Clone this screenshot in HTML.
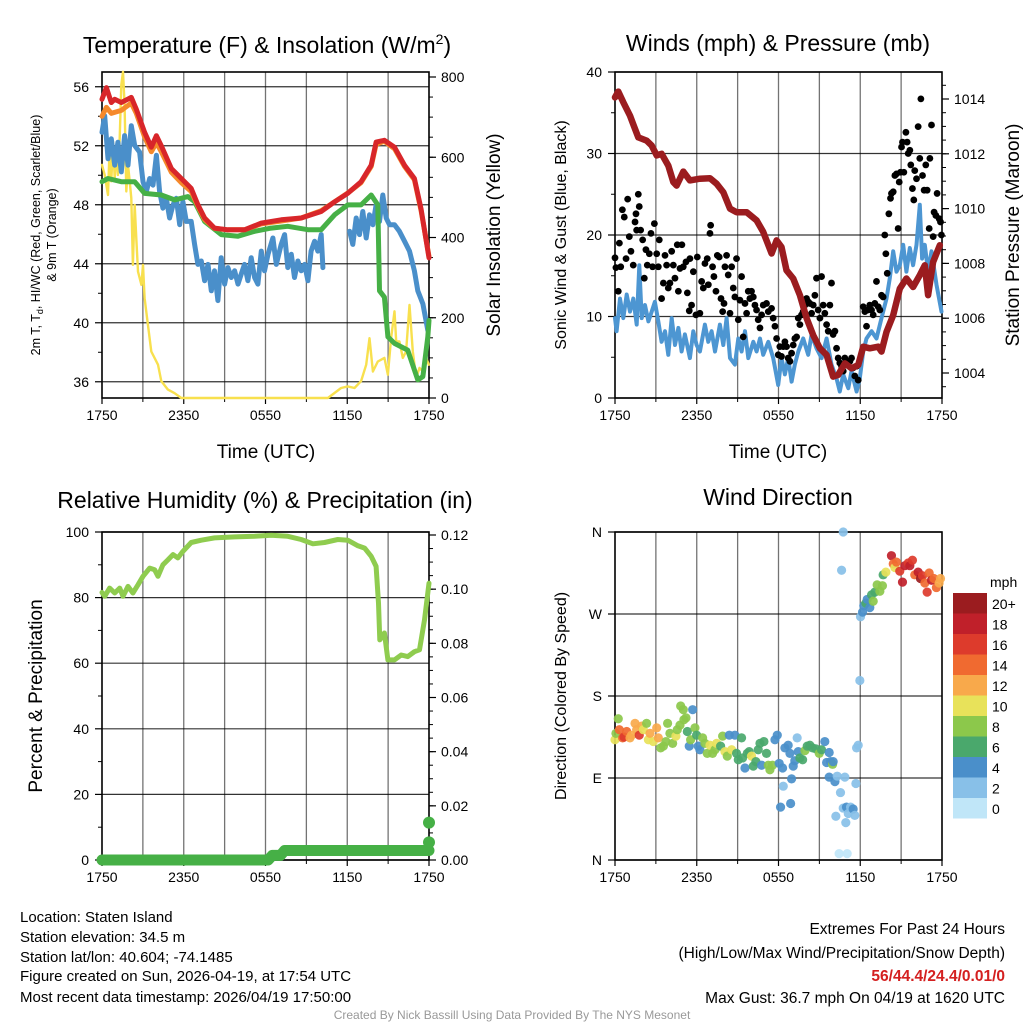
<!DOCTYPE html>
<html><head><meta charset="utf-8">
<style>
html,body{margin:0;padding:0;background:#fff;}
svg{display:block;font-family:"Liberation Sans",Arial,sans-serif;}
</style></head>
<body>
<svg id="chart" width="1024" height="1024" viewBox="0 0 1024 1024" xmlns="http://www.w3.org/2000/svg">
<rect width="1024" height="1024" fill="#fff"/>
<g id="layer"></g>
<text x="267" y="53" font-size="23" text-anchor="middle">Temperature (F) &amp; Insolation (W/m<tspan font-size="14" dy="-9">2</tspan><tspan dy="9">)</tspan></text>
<text x="778" y="51" font-size="23" text-anchor="middle">Winds (mph) &amp; Pressure (mb)</text>
<text x="265" y="508" font-size="23" text-anchor="middle">Relative Humidity (%) &amp; Precipitation (in)</text>
<text x="778" y="505" font-size="23" text-anchor="middle">Wind Direction</text>
<text x="266" y="458" font-size="19" text-anchor="middle">Time (UTC)</text>
<text x="778" y="458" font-size="19" text-anchor="middle">Time (UTC)</text>
<text font-size="12.5" text-anchor="middle" transform="translate(40,235) rotate(-90)">2m T, T<tspan font-size="9" dy="3">d</tspan><tspan dy="-3">, HI/WC (Red, Green, Scarlet/Blue)</tspan></text>
<text font-size="12.5" text-anchor="middle" transform="translate(56,235) rotate(-90)">&amp; 9m T (Orange)</text>
<text font-size="19" text-anchor="middle" transform="translate(500,235) rotate(-90)">Solar Insolation (Yellow)</text>
<text font-size="16" text-anchor="middle" transform="translate(566,235) rotate(-90)">Sonic Wind &amp; Gust (Blue, Black)</text>
<text font-size="19" text-anchor="middle" transform="translate(1019,235) rotate(-90)">Station Pressure (Maroon)</text>
<text font-size="19" text-anchor="middle" transform="translate(42,696) rotate(-90)">Percent &amp; Precipitation</text>
<text font-size="16" text-anchor="middle" transform="translate(566,696) rotate(-90)">Direction (Colored By Speed)</text>
<g font-size="15">
<text x="20" y="922">Location: Staten Island</text>
<text x="20" y="942">Station elevation: 34.5 m</text>
<text x="20" y="962">Station lat/lon: 40.604; -74.1485</text>
<text x="20" y="981">Figure created on Sun, 2026-04-19, at 17:54 UTC</text>
<text x="20" y="1002">Most recent data timestamp: 2026/04/19 17:50:00</text>
</g>
<g font-size="15.5" text-anchor="end">
<text x="1005" y="934">Extremes For Past 24 Hours</text>
<text x="1005" y="958">(High/Low/Max Wind/Precipitation/Snow Depth)</text>
<text x="1005" y="981" fill="#d42020" font-weight="bold">56/44.4/24.4/0.01/0</text>
<text x="1005" y="1003">Max Gust: 36.7 mph On 04/19 at 1620 UTC</text>
</g>
<text x="512" y="1019" font-size="12" fill="#999" text-anchor="middle">Created By Nick Bassill Using Data Provided By The NYS Mesonet</text>
</svg>
<script>
// ---------- Panel 1 data ----------
var redT = [0,0.32,0.68,0.93,1.42,2.15,2.52,3.13,3.62,3.99,4.35,5.09,5.82,6.55,7.04,7.53,8.26,9.24,10.46,11.69,13.15,14.62,16.09,17.07,18.04,19.02,19.76,20.12,20.73,21.47,22.2,22.93,23.42,24];
var redV = [55.15,55.94,54.93,55.15,54.93,55.28,54.48,52.91,51.9,52.68,52.0,50.45,49.78,49.11,48.0,47.1,46.42,46.3,46.3,46.76,46.98,47.1,47.54,48.2,48.78,49.56,50.68,52.25,52.37,51.9,50.68,49.78,47.7,44.4];
var orangeT = [0,0.32,0.68,1.42,2.15,2.52,3.13,3.62,3.99,4.35,5.09,5.82,6.55,7.04,7.53,8.26,9.24,10.46,11.69,13.15,14.62,16.09,17.07,18.04,19.02,19.76,20.12,20.73,21.47,22.2,22.93,23.42,24];
var orangeV = [54.0,54.6,54.2,54.4,54.9,54.2,52.6,51.6,52.2,51.6,50.2,49.5,48.9,47.9,47.0,46.4,46.3,46.3,46.7,46.9,47.1,47.6,48.2,48.8,49.5,50.6,52.1,52.3,51.8,50.6,49.7,47.6,44.5];
var greenT = [0,0.44,1.42,2.4,3.13,4.35,5.33,6.31,6.8,7.53,8.75,9.98,11.2,12.42,13.64,15.11,16.09,17.07,18.04,19.02,19.76,20.24,20.37,20.73,20.98,21.47,22.44,23.18,23.55,23.91,24];
var greenV = [49.56,49.78,49.56,49.56,48.77,48.66,48.33,48.55,48.21,46.87,45.98,45.87,46.2,46.42,46.54,46.31,46.31,47.32,47.99,47.99,48.66,47.99,42.17,41.73,39.04,38.6,38.15,36.13,36.36,39.04,40.16];
var blueT = [0,0.2,0.44,0.68,0.93,1.17,1.42,1.66,1.91,2.15,2.4,2.76,3.01,3.25,3.5,3.74,3.99,4.23,4.47,4.72,4.96,5.21,5.45,5.7,5.94,6.19,6.55,6.8,7.04,7.29,7.53,7.78,8.02,8.26,8.51,8.75,9.0,9.24,9.49,9.73,9.98,10.22,10.46,10.71,10.95,11.2,11.44,11.69,11.93,12.18,12.54,12.79,13.15,13.4,13.64,13.89,14.13,14.38,14.62,14.87,15.11,15.35,15.6,15.84,16.09,16.21,null,18.17,18.41,18.66,18.9,19.14,19.39,19.63,19.88,20.12,20.37,20.61,20.86,21.1,21.47,21.83,22.2,22.57,22.93,23.18,23.55,23.91];
var blueV = [52.91,54.03,51.12,52.47,50.68,52.24,50.23,52.69,50.68,53.36,52.02,51.57,49.56,48.89,49.78,49.33,51.35,48.89,47.77,48.44,47.1,47.99,48.44,46.65,48.21,46.87,46.87,45.31,43.96,44.19,42.85,43.96,42.17,43.52,41.5,44.41,42.62,43.74,43.07,43.52,42.62,43.29,43.96,42.85,44.41,43.07,42.62,44.86,43.52,44.64,45.75,43.96,45.31,45.98,43.74,44.64,43.07,44.19,43.52,43.96,42.85,44.86,45.53,44.86,45.98,43.74,null,46.2,45.31,47.1,45.98,47.54,45.75,47.32,46.65,47.99,46.87,48.66,47.1,46.65,46.65,46.2,45.53,44.86,43.52,42.17,41.28,39.49];
var sunT = [0,0.2,0.44,0.56,0.68,0.81,0.93,1.05,1.17,1.3,1.42,1.54,1.66,1.78,1.91,2.03,2.15,2.27,2.4,2.52,2.64,2.89,3.01,3.13,3.37,3.62,4.11,4.35,4.84,5.33,5.82,16.58,17.55,18.04,18.53,19.02,19.39,19.63,19.88,20.24,20.73,20.98,21.22,21.47,21.59,21.83,22.08,22.32,22.57,22.81,23.06,23.3,23.55,23.79,23.99];
var sunV = [581,556,506,622,540,639,548,614,556,647,780,813,730,515,581,540,498,332,481,398,315,282,332,249,183,116,83,42,21,12,0,0,25,29,25,42,83,149,66,91,100,58,149,216,141,141,100,116,232,116,50,75,66,100,83];

// ---------- Panel 2 data ----------
var presT = [0,0.24,0.61,1.1,1.47,1.71,2.32,2.69,3.06,3.42,3.91,4.28,4.52,5.01,5.5,6.23,6.97,7.46,7.95,8.44,8.92,9.66,10.39,10.88,11.49,11.86,12.22,12.59,13.08,13.57,14.06,14.55,15.04,15.53,16.01,16.38,16.87,17.36,17.85,18.22,18.7,19.32,19.56,19.93,20.42,20.9,21.39,21.88,22.37,22.74,22.98,23.35,23.84];
var presV = [1014.06,1014.27,1013.88,1013.39,1012.91,1012.6,1012.48,1012.3,1011.94,1012.0,1011.57,1010.97,1010.84,1011.35,1011.03,1011.09,1011.11,1010.91,1010.6,1010.0,1009.87,1009.87,1009.57,1009.15,1008.36,1008.84,1008.6,1007.75,1007.45,1006.84,1006.0,1005.38,1004.9,1004.66,1003.87,1003.93,1004.35,1004.17,1004.29,1004.96,1004.9,1004.96,1004.78,1005.5,1006.11,1007.08,1007.45,1007.14,1007.57,1007.93,1006.84,1008.05,1008.66];
var windT = [0,0.12,0.37,0.61,0.86,1.1,1.34,1.59,1.78,1.96,2.2,2.45,2.69,2.93,3.18,3.42,3.67,3.91,4.16,4.4,4.65,4.89,5.13,5.5,5.75,5.99,6.23,6.6,6.85,7.09,7.34,7.7,7.95,8.19,8.44,8.8,9.05,9.29,9.54,9.78,10.15,10.39,10.64,10.88,11.25,11.61,11.98,12.22,12.47,12.71,12.96,13.2,13.45,13.81,14.18,14.43,14.79,15.16,15.53,15.89,16.26,16.5,16.75,17.12,17.36,17.73,17.97,18.22,18.46,18.83,19.19,19.56,19.93,20.17,20.42,20.66,20.9,21.15,21.39,21.64,21.88,22.13,22.37,22.54,22.74,22.98,23.23,23.6,23.96];
var windV = [9.8,8.2,12.2,9.8,12.7,10.6,12.2,9.0,16.3,9.8,11.4,9.4,10.6,11.8,9.4,6.9,8.2,5.3,9.8,6.5,8.6,5.7,7.8,4.9,8.2,6.5,5.7,9.0,6.9,8.2,5.7,9.0,6.5,9.8,4.9,4.1,7.3,5.7,8.2,4.9,6.9,5.7,7.3,5.3,6.9,4.9,1.6,4.9,2.9,4.9,2.0,4.1,5.7,7.3,5.3,7.8,6.1,4.9,7.3,4.1,2.4,0.8,2.9,1.2,3.3,0.8,2.4,5.7,7.3,8.2,7.3,9.8,12.2,14.7,18.0,15.5,16.3,18.8,15.5,18.4,16.3,18.8,23.7,17.1,18.8,15.5,18.0,13.9,10.6];
var gustT = [0,0.07,0.24,0.32,0.42,0.54,0.68,0.81,0.93,1.05,1.17,1.34,1.47,1.54,1.59,1.71,1.78,1.88,2.03,2.15,2.27,2.37,2.52,2.64,2.76,2.89,3.06,3.18,3.25,3.42,3.55,3.67,3.79,3.91,4.03,4.16,4.28,4.4,4.57,4.65,4.77,4.91,5.01,5.21,5.31,5.45,5.5,5.62,5.75,5.94,6.04,6.23,6.36,6.48,6.6,6.77,6.85,6.97,7.02,7.16,7.26,7.41,7.51,7.65,7.78,7.9,8.0,8.07,8.19,8.31,8.44,8.56,8.68,8.8,8.92,9.05,9.17,9.29,9.41,9.54,9.66,9.78,9.9,10.02,10.15,10.27,10.39,10.51,10.64,10.76,10.88,11.12,11.25,11.49,11.61,11.74,11.86,11.98,12.1,12.22,12.35,12.47,12.59,12.71,12.84,12.96,13.08,13.2,13.33,13.45,13.57,13.69,13.81,13.94,14.06,14.18,14.3,14.43,14.55,14.67,14.79,14.91,15.04,15.16,15.28,15.4,15.53,15.65,15.77,15.89,16.01,16.14,16.26,16.38,16.5,16.63,16.75,16.87,16.99,17.12,17.24,17.36,17.48,17.6,17.73,17.85,18.22,18.34,18.46,18.58,18.7,18.83,18.95,19.07,19.19,19.32,19.44,19.56,19.68,19.8,19.88,19.98,20.1,20.22,20.29,20.42,20.54,20.66,20.78,20.86,20.95,21.03,21.1,21.2,21.35,21.44,21.52,21.64,21.71,21.83,21.93,22.0,22.13,22.25,22.37,22.45,22.57,22.69,22.81,22.91,23.06,23.11,23.23,23.35,23.42,23.55,23.64,23.79,23.89,23.96];
var gustV = [17.2,16.0,13.1,19.0,16.1,23.1,22.2,17.1,24.4,19.8,18.0,16.3,21.6,22.6,20.6,25.0,23.5,20.6,19.4,14.7,18.2,16.3,17.7,20.2,16.1,21.4,17.7,16.1,19.4,12.2,14.1,17.5,16.3,13.5,14.1,18.0,16.3,14.7,18.8,13.1,15.9,18.8,16.1,16.7,12.9,10.7,17.1,11.4,15.5,10.2,17.3,10.4,14.3,13.5,16.5,17.1,13.9,20.2,21.2,16.1,14.9,13.1,17.5,17.3,12.2,10.6,11.6,16.1,17.5,15.1,10.4,16.1,13.5,12.4,17.1,9.6,12.0,14.9,7.5,11.6,10.4,13.1,12.2,13.1,12.4,11.4,10.8,9.6,8.6,10.2,11.4,11.6,10.6,11.0,9.8,8.8,7.3,5.3,6.3,5.1,6.3,6.9,6.3,4.9,4.5,5.5,6.5,7.3,7.5,9.8,9.0,10.2,10.6,11.4,12.2,11.8,11.6,10.4,11.4,12.6,14.7,10.8,9.8,14.9,11.4,10.4,9.0,8.2,11.4,14.1,7.8,8.2,6.1,4.9,4.3,3.9,3.3,4.9,4.1,4.5,4.5,4.9,3.7,2.7,3.9,2.2,11.2,10.6,8.8,10.8,11.4,10.8,10.2,11.6,14.3,11.2,10.8,12.6,12.4,20.0,17.7,15.3,22.6,24.5,25.1,25.3,27.3,27.5,20.8,26.5,27.7,30.8,31.4,27.7,32.6,31.4,30.0,30.4,28.6,25.7,24.3,27.9,26.9,33.3,29.4,36.7,27.3,25.5,28.6,25.5,20.8,29.4,33.5,19.8,22.8,22.4,25.1,22.0,21.6,20.0];

// ---------- Panel 3 data ----------
var rhT = [0,0.2,0.56,0.93,1.3,1.54,1.91,2.27,2.64,3.01,3.5,3.86,4.11,4.47,4.84,5.21,5.57,5.94,6.55,7.29,8.26,9.73,11.2,12.42,13.64,14.62,15.48,16.33,17.31,18.04,18.78,19.27,19.76,20.12,20.29,20.39,20.73,20.98,21.47,21.96,22.44,22.93,23.3,23.67,23.91,24];
var rhV = [81.6,80.4,82.9,81.4,82.9,80.4,83.4,81.4,83.9,86.5,89.0,88.5,86.5,90.0,91.5,93.1,92.1,94.1,96.8,97.5,98.2,98.5,98.7,99.0,98.7,97.7,96.4,96.8,97.7,97.5,95.8,95.1,92.6,89.5,78.3,67.1,69.2,61.0,61.0,62.5,62.0,63.5,64.1,73.2,81.4,84.4];
var precipT = [0,12.2,12.5,13.1,13.4,24];
var precipV = [0,0,0.0017,0.0017,0.0035,0.0035];
var precipDotV = [0.0065,0.0138];

// ---------- Panel 4 data (160 obs) ----------
var dirT = [
0,0.07,0.24,0.32,0.56,0.66,0.86,1.1,1.22,1.47,
1.59,1.78,1.96,2.08,2.32,2.45,2.57,2.81,3.06,3.18,
3.35,3.55,3.74,3.86,4.03,4.23,4.47,4.57,4.77,4.82,
5.01,5.06,5.21,5.31,5.45,5.55,5.7,5.87,5.99,6.11,
6.23,6.43,6.6,6.77,6.97,7.16,7.34,7.46,7.75,7.9,
8.07,8.24,8.39,8.56,8.8,8.92,9.05,9.29,9.36,9.54,
9.71,9.85,10.02,10.15,10.34,10.51,10.64,10.76,10.93,11.12,
11.25,11.37,11.56,11.74,11.91,12.05,12.15,12.3,12.35,12.47,
12.71,12.84,12.89,12.96,13.08,13.2,13.37,13.45,13.57,13.77,
13.94,14.11,14.3,14.5,14.74,14.99,15.16,15.4,15.53,15.72,
15.82,15.97,16.01,15.72,16.14,16.21,16.31,16.55,16.75,16.87,
16.94,16.99,17.12,17.29,17.48,17.6,17.68,17.73,17.85,16.45,
17.04,16.75,16.63,17.97,18.02,18.17,18.26,18.41,18.51,18.7,
18.83,18.95,19.07,19.24,19.44,19.63,19.68,19.88,20.29,20.42,
20.54,20.66,20.9,21.1,21.27,21.52,21.64,21.83,22.0,22.25,
22.42,22.57,22.74,22.91,23.06,23.23,23.4,23.59,23.79,23.89];
var dirDeg = [
132,139,155,143,134,135,141,134,137,150,
143,137,147,143,150,132,139,130,145,134,
123,125,130,150,139,128,136,143,148,169,
165,154,156,141,125,132,165,145,137,125,
121,134,128,117,126,117,121,128,125,136,
119,114,137,121,137,117,110,134,112,101,
117,119,114,103,108,121,128,104,130,117,
104,99,104,132,137,106,58,101,81,123,
126,117,62,89,103,109,134,119,112,110,
120,125,126,123,122,117,121,130,107,118,
108,105,108,91,86,48,92,74,57,91,
41,58,51,58,56,49,84,123,126,7,
7,360,318,197,267,272,279,282,286,277,
291,284,294,302,295,301,313,316,334,325,
321,327,317,305,323,326,323,329,313,316,
309,312,304,294,315,307,309,299,304,309];
var dirSpd = [
10,7,7,13,14,16,13,12,12,11,
12,16,11,10,8,10,11,10,12,11,
8,8,8,8,7,7,10,7,8,8,
8,8,7,6,4,8,4,8,6,4,
4,8,8,7,10,7,8,10,6,7,
10,7,4,10,4,6,6,6,6,4,
6,6,9,6,6,6,6,4,6,6,
8,7,7,4,4,3,3,4,2,4,
4,3,3,3,3,4,2,3,6,6,
8,6,6,6,6,7,6,4,3,4,
3,8,4,4,4,2,2,2,2,1,
2,3,2,2,3,1,2,2,1,0,
0,2,1,1,2,4,4,6,4,4,
6,7,6,7,7,7,6,10,17,13,
10,14,16,18,17,16,17,16,14,17,
20,16,14,16,13,18,14,14,11,12];

// ---------- Colorbar ----------
var cbLabels = ["20+","18","16","14","12","10","8","6","4","2","0"];
var cbColors = ["#9b1c1f","#c0202a","#dd3b2c","#f06a30","#f8a94b","#e8e25a","#8cc84b","#4aa86c","#4a8fca","#88c0e8","#c0e6f8"];

var NS="http://www.w3.org/2000/svg";
var layer=document.getElementById('layer');
function el(tag,attrs,parent){var e=document.createElementNS(NS,tag);for(var k in attrs)e.setAttribute(k,attrs[k]);(parent||layer).appendChild(e);return e;}
function txt(s,x,y,size,anchor,parent){var t=el('text',{x:x,y:y,'font-size':size,'text-anchor':anchor||'middle'},parent);t.textContent=s;return t;}

function panel(x0,x1,y0,y1,ymin,ymax){return {x0:x0,x1:x1,y0:y0,y1:y1,ymin:ymin,ymax:ymax,
  X:function(t){return x0+(t/24)*(x1-x0);},
  Y:function(v){return y1-(v-ymin)/(ymax-ymin)*(y1-y0);}};}

var P1=panel(102,429,72,398,34.9,57.0);
var P1r=function(w){return 398-(w/800)*(398-77);};
var P2=panel(615,942,72,398,0,40);
var P2r=function(p){return 373-(p-1004)/10*(373-99);};
var P3=panel(102,429,532,860,0,100);
var P3r=function(v){return 860-(v/0.12)*(860-535);};
var P4=panel(615,942,532,860,0,360);

var xLabels=["1750","2350","0550","1150","1750"];
var xLabelHours=[0,6,12,18,24];

function frame(P,name,yTicks,yLabels,rTickY,rLabels,rMinorY,lMinorY){
  var g=el('g',{});
  
  
  for(var h=3;h<24;h+=3){var x=P.X(h);var l=el('line',{x1:x,x2:x,y1:P.y0,y2:P.y1,stroke:'#000','stroke-opacity':0.55,'stroke-width':1.3},g);
    }
  yTicks.forEach(function(y,i){var l=el('line',{x1:P.x0,x2:P.x1,y1:y,y2:y,stroke:'#000','stroke-opacity':0.8,'stroke-width':1.2},g);
    
    el('line',{x1:P.x0-7,x2:P.x0,y1:y,y2:y,stroke:'#000','stroke-width':1.2},g);
    var t=txt(yLabels[i],P.x0-13,y+5,14,'end',g);
    });
  (lMinorY||[]).forEach(function(y){el('line',{x1:P.x0-4,x2:P.x0,y1:y,y2:y,stroke:'#000','stroke-width':1},g);});
  (rTickY||[]).forEach(function(y,i){el('line',{x1:P.x1,x2:P.x1+7,y1:y,y2:y,stroke:'#000','stroke-width':1.2},g);
    var t=txt(rLabels[i],P.x1+12,y+5,14,'start',g);
    });
  (rMinorY||[]).forEach(function(y){el('line',{x1:P.x1,x2:P.x1+4,y1:y,y2:y,stroke:'#000','stroke-width':1},g);});
  xLabelHours.forEach(function(h,i){var x=P.X(h);el('line',{x1:x,x2:x,y1:P.y1,y2:P.y1+6,stroke:'#000','stroke-width':1.2},g);
    var t=txt(xLabels[i],x,P.y1+22,14,'middle',g);
    });
  for(var h2=3;h2<24;h2+=6){var x2=P.X(h2);el('line',{x1:x2,x2:x2,y1:P.y1,y2:P.y1+4,stroke:'#000','stroke-width':1},g);}
  var r=el('rect',{x:P.x0,y:P.y0,width:P.x1-P.x0,height:P.y1-P.y0,fill:'none',stroke:'#000','stroke-width':1.6},g);
  
  return g;
}
function range(a,b,s){var r=[];for(var v=a;v<=b+1e-9;v+=s)r.push(v);return r;}

var t1=[56,52,48,44,40,36];
frame(P1,'temperature-panel',t1.map(P1.Y),t1.map(String),[800,600,400,200,0].map(P1r),["800","600","400","200","0"],range(0,800,50).map(P1r),[54,50,46,42,38].map(P1.Y));
var t2=[40,30,20,10,0];
frame(P2,'winds-panel',t2.map(P2.Y),t2.map(String),[1014,1012,1010,1008,1006,1004].map(P2r),["1014","1012","1010","1008","1006","1004"],range(1003.5,1014.5,0.5).map(P2r),[35,25,15,5].map(P2.Y));
var t3=[100,80,60,40,20,0];
frame(P3,'humidity-panel',t3.map(P3.Y),t3.map(String),[0.12,0.10,0.08,0.06,0.04,0.02,0.00].map(P3r),["0.12","0.10","0.08","0.06","0.04","0.02","0.00"],range(0,0.12,0.005).map(P3r),[90,70,50,30,10].map(P3.Y));
var t4=[360,270,180,90,0];
frame(P4,'wind-direction-panel',t4.map(P4.Y),["N","W","S","E","N"],[],[],[],[]);

function pathFrom(T,V,xf,yf){var d='',pen=false;for(var i=0;i<T.length;i++){if(T[i]===null||V[i]===null){pen=false;continue;}
  d+=(pen?'L':'M')+xf(T[i]).toFixed(1)+','+yf(V[i]).toFixed(1);pen=true;}return d;}
function series(name,T,V,xf,yf,color,w){var p=el('path',{d:pathFrom(T,V,xf,yf),fill:'none',stroke:color,'stroke-width':w,'stroke-linejoin':'round','stroke-linecap':'round'});
  return p;}

series('insolation-line',sunT,sunV,P1.X,P1r,'#f8e04e',2.4);
series('heat-index-line',blueT,blueV,P1.X,P1.Y,'#4a8fca',5);
series('dewpoint-line',greenT,greenV,P1.X,P1.Y,'#46b046',5);
series('temp-9m-line',orangeT,orangeV,P1.X,P1.Y,'#f5892b',5);
series('temp-2m-line',redT,redV,P1.X,P1.Y,'#d8262a',5);

series('wind-speed-line',windT,windV,P2.X,P2.Y,'#4d96d2',4);
for(var i=0;i<gustT.length;i++){var c=el('circle',{cx:P2.X(gustT[i]),cy:P2.Y(gustV[i]),r:3.4,fill:'#000'});
  
  }
series('pressure-line',presT,presV,P2.X,P2r,'#9b1c1f',6.5);

series('humidity-line',rhT,rhV,P3.X,P3.Y,'#8fcc4f',5);
series('precip-line',precipT,precipV,P3.X,P3r,'#46b046',11);
precipDotV.forEach(function(v){var c=el('circle',{cx:P3.X(24),cy:P3r(v),r:6,fill:'#46b046'});
  
  });

function spdColor(s){var idx=Math.round(s/2);if(idx>10)idx=10;if(idx<0)idx=0;return cbColors[10-idx];}
var nDir=Math.min(dirT.length,dirDeg.length,dirSpd.length);
for(var j=0;j<nDir;j++){var c2=el('circle',{cx:P4.X(dirT[j]),cy:P4.Y(dirDeg[j]),r:4.6,fill:spdColor(dirSpd[j]),'fill-opacity':0.92});
  
  }

var cb=el('g',{});


txt('mph',990,587,14,'start',cb);
cbLabels.forEach(function(lab,k){var y=593+k*20.5;
  var r=el('rect',{x:953,y:y,width:34,height:20.5,fill:cbColors[k]},cb);
  
  
  var t=txt(lab,992,y+16,14,'start',cb);
  
  });
</script>
</body></html>
